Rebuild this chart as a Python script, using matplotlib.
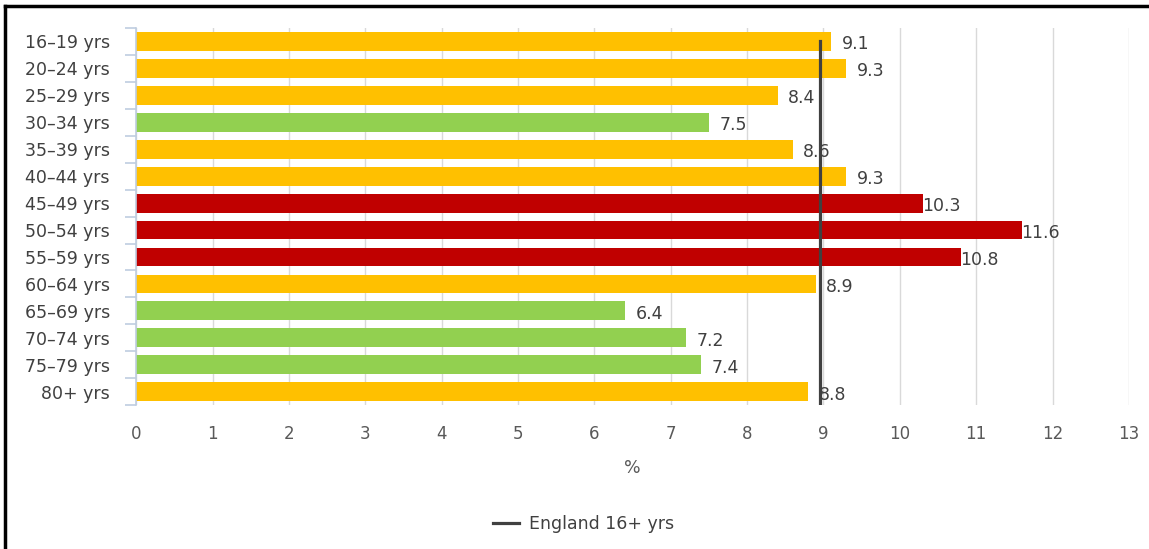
import matplotlib.pyplot as plt
import numpy as np

ages = ['16–19 yrs', '20–24 yrs', '25–29 yrs', '30–34 yrs', '35–39 yrs', '40–44 yrs',
        '45–49 yrs', '50–54 yrs', '55–59 yrs', '60–64 yrs', '65–69 yrs', '70–74 yrs',
        '75–79 yrs', '80+ yrs']
values = [9.1, 9.3, 8.4, 7.5, 8.6, 9.3, 10.3, 11.6, 10.8, 8.9, 6.4, 7.2, 7.4, 8.8]
england = 8.95

orange = '#FFC000'
green = '#92D050'
red = '#C00000'


def bar_color(v):
    if v >= 10:
        return red
    if v < 8:
        return green
    return orange


fig = plt.figure(figsize=(11.49, 5.49), dpi=100)
ax = fig.add_axes([0.1185, 0.262, 0.864, 0.687])

y = np.arange(len(ages))
ax.barh(y, values, height=0.7, color=[bar_color(v) for v in values], zorder=2)

for yi, v in zip(y, values):
    ax.annotate(f'{v:.1f}', (v, yi), xytext=(38, -3), textcoords='offset pixels',
                ha='right', va='center', fontsize=12.5, color='#404040', zorder=4)

ax.plot([england, england], [y[0], y[-1] + 0.5], color='#404040', lw=2.3,
        zorder=3, label='England 16+ yrs')

ax.set_xlim(0, 13)
ax.set_ylim(len(ages) - 0.5, -0.5)
ax.set_xticks(range(0, 14))
ax.grid(axis='x', color='#D9D9D9', lw=1, zorder=0)
ax.tick_params(axis='x', length=0, pad=14, labelsize=12, labelcolor='#595959')

ax.set_yticks(y)
ax.set_yticklabels(ages)
ax.tick_params(axis='y', length=0, pad=19, labelsize=12.5, labelcolor='#404040')
ax.set_yticks(np.arange(len(ages) + 1) - 0.5, minor=True)
ax.tick_params(axis='y', which='minor', length=8, width=1.2, color='#BFCDE0')

for s in ['top', 'right', 'bottom']:
    ax.spines[s].set_visible(False)
ax.spines['left'].set_color('#BFCDE0')
ax.spines['left'].set_linewidth(1.2)

ax.set_xlabel('%', fontsize=12.5, color='#595959', labelpad=12)

fig.legend(loc='center', bbox_to_anchor=(0.508, 0.045), frameon=False,
           fontsize=12.5, labelcolor='#404040', handlelength=1.5, handletextpad=0.6)

# black frame visible at top and left
fig.add_artist(plt.Line2D([0.004, 1.0], [0.989, 0.989], color='black', lw=2.5,
                          transform=fig.transFigure))
fig.add_artist(plt.Line2D([0.0045, 0.0045], [0.0, 0.989], color='black', lw=2.5,
                          transform=fig.transFigure))

fig.savefig('out.png', dpi=100)
